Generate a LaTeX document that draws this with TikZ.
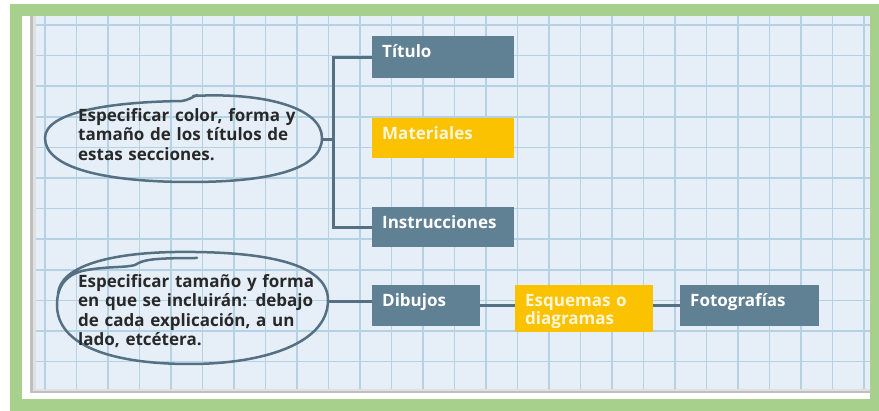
\documentclass[tikz,border=0pt]{standalone}
\usepackage{fontspec}
\setmainfont{Open Sans}
\usetikzlibrary{positioning}
\definecolor{leafgreen}{RGB}{168, 208, 141}
\definecolor{paper}{RGB}{230, 239, 248}
\definecolor{gridblue}{RGB}{180, 210, 228}
\definecolor{slate}{RGB}{96, 128, 148}
\definecolor{slateline}{RGB}{84, 112, 130}
\definecolor{sunflower}{RGB}{250, 194, 0}
\definecolor{ink}{RGB}{40, 40, 40}
\tikzset{
  card/.style={anchor=north west, fill=slate, text=white, font=\bfseries\fontsize{17}{18}\selectfont,
               align=left, inner xsep=10pt, inner ysep=0pt, text height=21pt},
  cardyellow/.style={card, fill=sunflower, text=white!85!sunflower},
  note/.style={anchor=north west, inner sep=0pt, text=ink, font=\bfseries\fontsize{17}{19.5}\selectfont,
               align=left, text width=250pt, text height=12pt},
  link/.style={slateline, line width=3pt},
  bubble/.style={slateline, line width=2.5pt, line cap=round},
}
\begin{document}
\begin{tikzpicture}[x=1pt, y=-1pt]
  % Frame to fix the size:
  \useasboundingbox (0,0) rectangle (879,411);
  \fill[white]     (0,0)   rectangle (879,411);
  \fill[leafgreen] (10,4)  rectangle (879,411);
  \fill[white]     (22,16) rectangle (870,399);
  % Paper, shadow and grid:
  \fill[black!25]  (30,16) rectangle (870,393);
  \fill[black!12]  (33,16) rectangle (870,391);
  \fill[paper]     (36,16) rectangle (870,389);
  \begin{scope}
    \clip (36,16) rectangle (870,389);
    \foreach \gx in {0,...,26}
      \draw[gridblue, line width=1.5pt] ({45+31.5*\gx},16) -- ({45+31.5*\gx},389);
    \foreach \gy in {0,...,12}
      \draw[gridblue, line width=1.5pt] (36,{25+30.6*\gy}) -- (870,{25+30.6*\gy});
  \end{scope}
  % Bubbles:
  \draw[bubble] (193,96) .. controls (265,92) and (322,108) .. (322,138)
                .. controls (322,170) and (268,182) .. (190,182)
                .. controls (105,182) and (45,168) .. (45,138)
                .. controls (45,112) and (110,102) .. (182,101)
                .. controls (188,100) and (191,98) .. (197,95);
  \draw[bubble] (58,294) .. controls (60,266) and (110,253) .. (175,252)
                .. controls (260,251) and (328,262) .. (328,300)
                .. controls (328,345) and (260,364) .. (190,364)
                .. controls (110,364) and (57,345) .. (57,305)
                .. controls (57,288) and (64,276) .. (82,271)
                .. controls (105,266) and (125,268) .. (135,265)
                .. controls (143,260) and (150,258) .. (197,258);
  % Notes:
  \node[note] (nota1) at (78,109) {Especificar color, forma y\\tamaño de los títulos de\\estas secciones.};
  \node[note] (nota2) at (78,275) {Especificar tamaño y forma\\en que se incluirán: debajo\\de cada explicación, a un\\lado, etcétera.};
  % Cards:
  \node[card,       text width=122pt, text depth=21pt] (titulo)        at (372,36)  {Título};
  \node[cardyellow, text width=122pt, text depth=19pt] (materiales)    at (372,118) {Materiales};
  \node[card,       text width=122pt, text depth=19pt] (instrucciones) at (372,207) {Instrucciones};
  \node[card,       text width=88pt,  text depth=20pt] (dibujos)       at (372,285) {Dibujos};
  \node[cardyellow, text width=118pt, text depth=26pt] (esquemas)      at (515,285) {Esquemas o\\diagramas};
  \node[card,       text width=119pt, text depth=20pt] (fotos)         at (680,285) {Fotografías};
  % Connectors:
  \coordinate (tronco) at (333,140);
  \coordinate (cola1)  at (322,140);
  \coordinate (cola2)  at (328,302);
  \draw[link] (titulo.west) -| (tronco) |- (instrucciones.west);
  \draw[link] (cola1) -- (tronco);
  \draw[link] (cola2) -- (cola2 -| dibujos.west);
  \draw[link] (dibujos.east) -- (dibujos.east -| esquemas.west);
  \draw[link] (esquemas.east |- fotos.west) -- (fotos.west);
\end{tikzpicture}
\end{document}
